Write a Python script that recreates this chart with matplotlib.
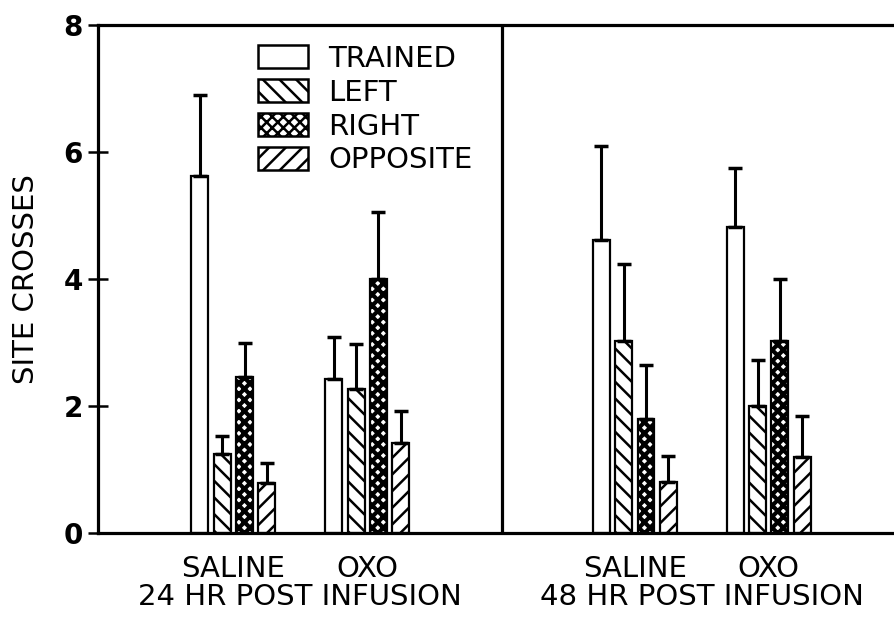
import numpy as np
import matplotlib
matplotlib.use("Agg")
import matplotlib.pyplot as plt
from matplotlib.patches import Patch
import matplotlib.transforms as mtransforms

# site crosses, mean and upper error (SEM), per condition
groups = ["SALINE", "OXO", "SALINE", "OXO"]
periods = ["24 HR POST INFUSION", "48 HR POST INFUSION"]
series = ["TRAINED", "LEFT", "RIGHT", "OPPOSITE"]

trained = [5.62, 2.42, 4.62, 4.82]
left = [1.25, 2.27, 3.02, 2.00]
right = [2.45, 4.00, 1.80, 3.02]
opposite = [0.79, 1.41, 0.80, 1.20]

trained_err = [1.27, 0.66, 1.48, 0.93]
left_err = [0.27, 0.71, 1.21, 0.72]
right_err = [0.55, 1.05, 0.85, 0.98]
opposite_err = [0.31, 0.51, 0.42, 0.65]

values = [trained, left, right, opposite]
errors = [trained_err, left_err, right_err, opposite_err]
hatches = [None, "\\\\", "xxx", "//"]

plt.rcParams.update({
    "font.family": "DejaVu Sans",
    "hatch.linewidth": 1.8,
})

fig = plt.figure(figsize=(8.94, 6.18), dpi=100)
ax = fig.add_axes([98 / 894, 85 / 618, 1 - 98 / 894, 508 / 618])

group_start = np.array([0, 6, 18, 24])
width = 0.76

for i, (vals, errs, h) in enumerate(zip(values, errors, hatches)):
    x = group_start + i
    if h == "xxx":
        with plt.rc_context({"hatch.linewidth": 3.0}):
            ax.bar(x, vals, width, facecolor="white", edgecolor="black",
                   linewidth=1.6, hatch=h, zorder=2)
    else:
        ax.bar(x, vals, width, facecolor="white", edgecolor="black",
               linewidth=1.6, hatch=h, zorder=2)
    ax.errorbar(x, vals, yerr=[np.zeros(len(vals)), errs], fmt="none",
                ecolor="black", elinewidth=2.2, capsize=5, capthick=2.5,
                zorder=3)

ax.set_xlim(-4.57, 31.12)
ax.set_ylim(0, 8)
ax.axvline(13.54, color="black", linewidth=2.3)

for side in ["left", "top", "bottom"]:
    ax.spines[side].set_linewidth(2.3)
ax.spines["right"].set_visible(False)

ax.set_yticks([0, 2, 4, 6, 8])
ax.tick_params(axis="y", direction="inout", length=14, width=1.8,
               labelsize=20, pad=4)
for lbl in ax.get_yticklabels():
    lbl.set_fontweight("bold")
ax.set_xticks([])

ax.set_ylabel("SITE CROSSES", fontsize=21)
ax.yaxis.set_label_coords(-58 / 796, 0.5)

trans = mtransforms.blended_transform_factory(ax.transData, ax.transAxes)
for start, name in zip(group_start, groups):
    ax.text(start + 1.5, -0.0866, name, transform=trans, ha="center",
            va="baseline", fontsize=21)
for k, name in enumerate(periods):
    mid = (group_start[2 * k] + group_start[2 * k + 1]) / 2 + 1.5
    ax.text(mid, -0.1417, name, transform=trans, ha="center",
            va="baseline", fontsize=21)

handles = []
for h in hatches:
    handles.append(Patch(facecolor="white", edgecolor="black", linewidth=1.8,
                         hatch=h))
ax.legend(handles, series, loc="upper left",
          bbox_to_anchor=(258 / 894, 1 - 45 / 618),
          bbox_transform=fig.transFigure, frameon=False, fontsize=21,
          handlelength=1.72, handleheight=0.83, handletextpad=0.7,
          labelspacing=0.2, borderpad=0, borderaxespad=0)

fig.savefig("out.png", dpi=100)
